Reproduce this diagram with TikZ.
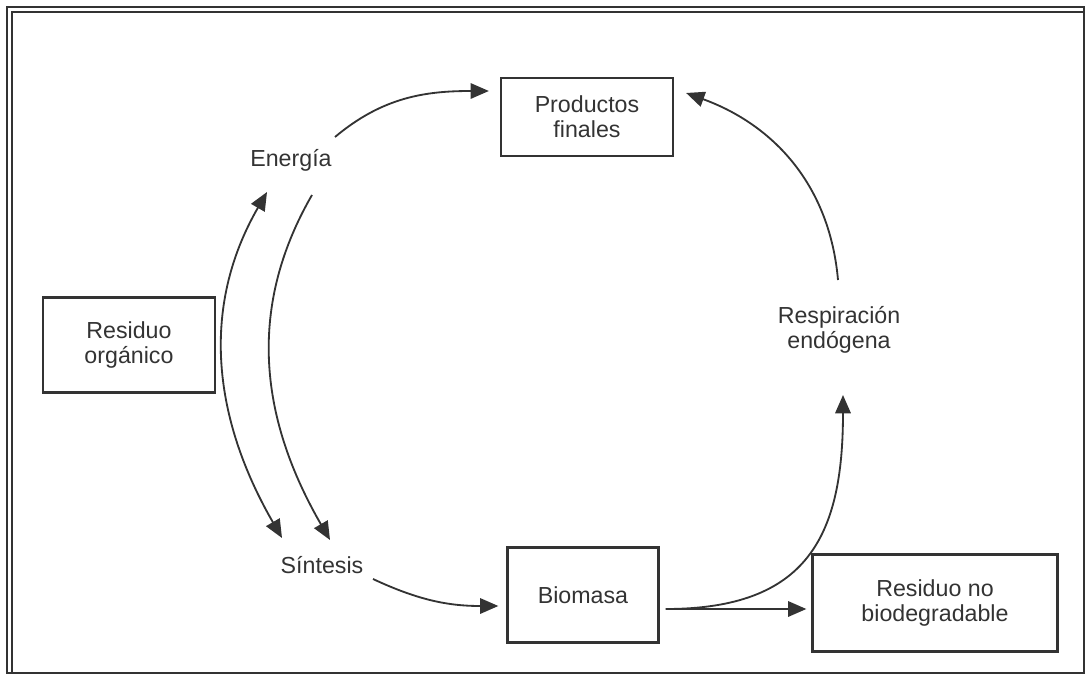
\documentclass[tikz,border=0pt]{standalone}
\usepackage{fontspec}
\setmainfont{Liberation Sans}
\usetikzlibrary{arrows.meta}

\definecolor{ink}{HTML}{333333}

\begin{document}
\begin{tikzpicture}[x=0.025cm,y=0.025cm]
    \tikzset{block/.style= {draw=ink, rectangle
    , line width=1.6pt
    , align=center
    , text=ink
    , font=\fontsize{16.5}{18}\selectfont
      }
    , label/.style= {align=center, text=ink
    , font=\fontsize{16.5}{18}\selectfont
      }
    , flow/.style= {draw=ink, line width=1.3pt
    , -{Triangle[length=13pt,width=11pt]}
      }
    }

\useasboundingbox (0,0) rectangle (1087,-677);
\draw[ink, line width=1pt] (7,-7) rectangle (1084,-673);
\draw[ink, line width=1pt] (12,-673) -- (12,-12) -- (1084,-12);

\node [block, minimum width=4.3cm, minimum height=1.95cm] (productos) at (587,-117) {Productos\\finales};
\node [block, minimum width=4.3cm, minimum height=2.375cm] (residuo) at (129,-345) {Residuo\\orgánico};
\node [block, minimum width=3.775cm, minimum height=2.375cm] (biomasa) at (583,-595) {Biomasa};
\node [block, minimum width=6.125cm, minimum height=2.425cm] (nobio) at (935,-603) {Residuo no\\biodegradable};
\node [label] (energia) at (291,-160) {Energía};
\node [label] (sintesis) at (322,-565) {Síntesis};
\node [label] (respiracion) at (839,-330) {Respiración\\endógena};

\path[flow]
  ([shift={(44,23)}]energia.center) to[out=40,in=180] ([shift={(-11,26)}]productos.west);
\path[flow, {Triangle[length=13pt,width=11pt]}-{Triangle[length=13pt,width=11pt]}]
  ([shift={(-40,27)}]sintesis.center) to[out=120,in=-120] ([shift={(-24,-32)}]energia.center);
\path[flow]
  ([shift={(21,-35)}]energia.center) to[out=-120,in=120] ([shift={(8,25)}]sintesis.center);
\path[flow]
  ([shift={(51,-14)}]sintesis.center) to[out=-25,in=180] ([shift={(-8,-11)}]biomasa.west);
\path[flow]
  ([shift={(6,-14)}]biomasa.east) -- ([shift={(-5,-6)}]nobio.west);
\path[flow]
  ([shift={(6,-14)}]biomasa.east) to[out=0,in=-90,looseness=1.3] ([shift={(4,-65)}]respiracion.center);
\path[flow]
  ([shift={(-1,50)}]respiracion.center) to[out=95,in=-20] ([shift={(12,24)}]productos.east);
\end{tikzpicture}
\end{document}
